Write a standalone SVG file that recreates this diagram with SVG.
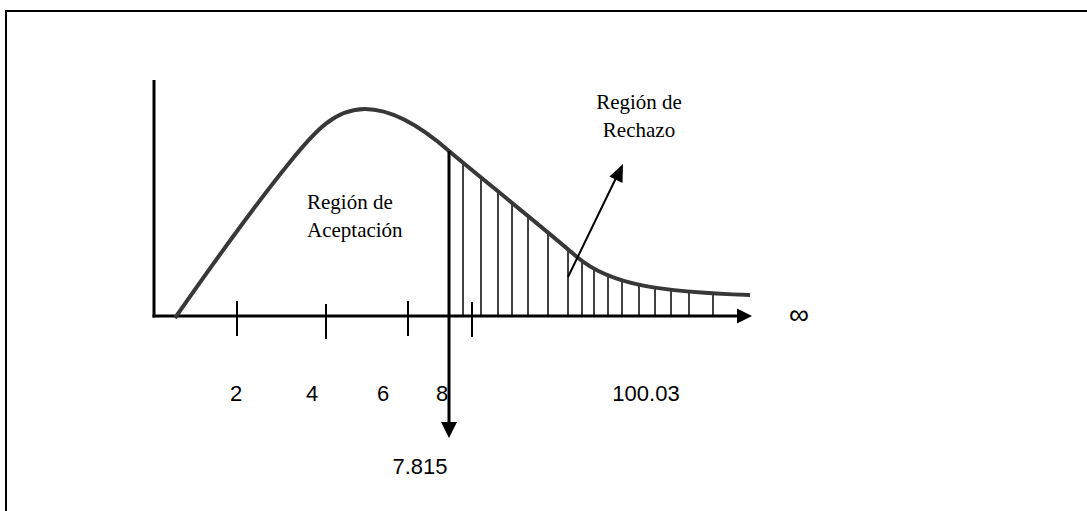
<svg xmlns="http://www.w3.org/2000/svg" width="1087" height="511" viewBox="0 0 1087 511">
<style>
.serif{font-family:"Liberation Serif","Times New Roman",serif;font-size:21px;fill:#000}
.sans{font-family:"Liberation Sans",Arial,sans-serif;font-size:22px;fill:#000}
.hatch{stroke:#000;stroke-width:1.5}
.tick{stroke:#000;stroke-width:2}
</style>
<defs>
<clipPath id="under">
<path d="M449,151 C470,169 540,225 577,257 C610,285 660,292 750,295 L750,316 L449,316 Z"/>
</clipPath>
</defs>
<rect x="0" y="0" width="1087" height="511" fill="#fff"/>
<g id="frame">
<path d="M6,520 L6,11 L1095,11" fill="none" stroke="#000" stroke-width="2"/>
</g>
<g id="hatching" clip-path="url(#under)">
<line class="hatch" x1="463" y1="100" x2="463" y2="316"/>
<line class="hatch" x1="481" y1="100" x2="481" y2="316"/>
<line class="hatch" x1="498" y1="100" x2="498" y2="316"/>
<line class="hatch" x1="512" y1="100" x2="512" y2="316"/>
<line class="hatch" x1="528" y1="100" x2="528" y2="316"/>
<line class="hatch" x1="548" y1="100" x2="548" y2="316"/>
<line class="hatch" x1="568" y1="100" x2="568" y2="316"/>
<line class="hatch" x1="582" y1="100" x2="582" y2="316"/>
<line class="hatch" x1="594" y1="100" x2="594" y2="316"/>
<line class="hatch" x1="608" y1="100" x2="608" y2="316"/>
<line class="hatch" x1="622" y1="100" x2="622" y2="316"/>
<line class="hatch" x1="639" y1="100" x2="639" y2="316"/>
<line class="hatch" x1="655" y1="100" x2="655" y2="316"/>
<line class="hatch" x1="671" y1="100" x2="671" y2="316"/>
<line class="hatch" x1="689" y1="100" x2="689" y2="316"/>
<line class="hatch" x1="713" y1="100" x2="713" y2="316"/>
</g>
<g id="axes">
<line x1="154" y1="80" x2="154" y2="317.5" stroke="#000" stroke-width="3"/>
<line x1="152.5" y1="316" x2="740" y2="316" stroke="#000" stroke-width="3"/>
<polygon points="737,308.5 752,316 737,323.5" fill="#000"/>
<line class="tick" x1="237" y1="301" x2="237" y2="336"/>
<line class="tick" x1="326" y1="304" x2="326" y2="339"/>
<line class="tick" x1="408" y1="301" x2="408" y2="336"/>
<line class="tick" x1="472" y1="302" x2="472" y2="337"/>
</g>
<g id="curve">
<path d="M175,318 C205,275 255,205 290,162 C315,131 335,109 365,109 C395,109 425,130 449,151 C470,169 540,225 577,257 C610,285 660,292 750,295" fill="none" stroke="#383838" stroke-width="4"/>
</g>
<g id="connectors">
<g id="critical-arrow">
<line x1="449" y1="151" x2="449" y2="424" stroke="#000" stroke-width="3"/>
<polygon points="441,422 457,422 449,438" fill="#000"/>
</g>
<g id="rejection-arrow">
<line x1="568" y1="277" x2="617" y2="176" stroke="#000" stroke-width="2"/>
<polygon points="623,164 622.5,183 609.5,176.5" fill="#000"/>
</g>
</g>
<g id="acceptance-label">
<text class="serif" x="307" y="209">Región de</text>
<text class="serif" x="307" y="237">Aceptación</text>
</g>
<g id="rejection-label">
<text class="serif" x="639" y="109" text-anchor="middle">Región de</text>
<text class="serif" x="639" y="137" text-anchor="middle">Rechazo</text>
</g>
<g id="axis-labels">
<text class="sans" x="236" y="401" text-anchor="middle">2</text>
<text class="sans" x="312" y="401" text-anchor="middle">4</text>
<text class="sans" x="383" y="401" text-anchor="middle">6</text>
<text class="sans" x="442" y="401" text-anchor="middle">8</text>
<text class="sans" x="646" y="401" text-anchor="middle">100.03</text>
<text class="sans" x="420" y="474" text-anchor="middle">7.815</text>
<text class="sans" x="799" y="324" text-anchor="middle" style="font-size:28px">∞</text>
</g>
</svg>
